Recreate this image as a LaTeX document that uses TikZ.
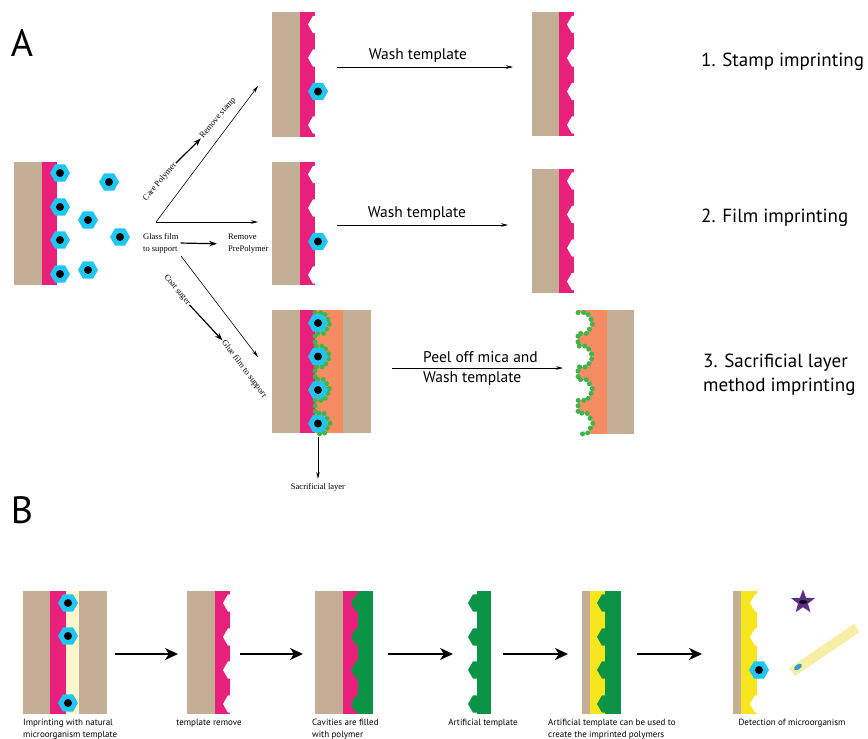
\documentclass[tikz,border=0pt]{standalone}
\usepackage{fontspec}
\setmainfont{PT Sans}
\newfontfamily\notefont{Liberation Serif}
\usetikzlibrary{arrows.meta}
\definecolor{support}{HTML}{C4AE95}
\definecolor{stamppink}{HTML}{E8207B}
\definecolor{bugcyan}{HTML}{1EC6F2}
\definecolor{sacorange}{HTML}{F58C62}
\definecolor{beadgreen}{HTML}{3DB54A}
\definecolor{polygreen}{HTML}{0B9446}
\definecolor{mipyellow}{HTML}{F7E51E}
\definecolor{cream}{HTML}{FDF6CF}
\definecolor{stick}{HTML}{F8EFA6}
\definecolor{starpurple}{HTML}{5E2D84}
\definecolor{dotblue}{HTML}{2F9BD8}

% bead string wrapped round the template cells, cells centred at x=#1
\newcommand\beadchain[1]{%
  \draw[beads] ({#1-3},312.6) \foreach \c in {323,356.5,390,423.5}
    {-- ({#1-3},{\c-10.4}) -- ({#1+6},{\c-10.4}) -- ({#1+12},\c) -- ({#1+6},{\c+10.4}) -- ({#1-3},{\c+10.4})};}

\begin{document}
\begin{tikzpicture}[x=1pt,y=-1pt,
 lbl/.style={font=\fontsize{15.5}{20}\selectfont,inner sep=0},
 big/.style={font=\fontsize{19}{24}\selectfont,align=left,anchor=west,inner sep=0},
 note/.style={font=\notefont\fontsize{8.5}{12}\selectfont,align=left,inner sep=1pt},
 steptxt/.style={font=\fontsize{9}{11.5}\selectfont,align=left,inner sep=0},
 thinarr/.style={-{Stealth[length=7pt,width=3.5pt]},line width=0.6pt},
 fatarr/.style={-{Stealth[length=8pt,width=5.5pt]},line width=1.2pt},
 bigarr/.style={-{Stealth[length=13pt,width=12pt,inset=4pt]},line width=2pt},
 beads/.style={draw=beadgreen,line width=5pt,line cap=round,dash pattern=on 0pt off 5.6pt},
 pics/microbe/.style={code={
   \fill[bugcyan] (0:10)--(60:10)--(120:10)--(180:10)--(240:10)--(300:10)--cycle;
   \fill (0,0) circle[radius=4pt];}},
 pics/pit/.style={code={
   \fill[#1] (0:10)--(60:10)--(120:10)--(180:10)--(240:10)--(300:10)--cycle;}}]
\fill[white] (0,0) rectangle (868,739);
\useasboundingbox (0,0) rectangle (868,739);

%% ---------- A ----------
\node[font=\fontsize{38}{38}\selectfont,inner sep=0] (labA) at (22,43) {A};

% film with the template cells
\fill[support] (14,162) rectangle (42,285);
\fill[stamppink] (42,162) rectangle (57,285);
\foreach \y in {173,207,240,274} \pic at (60,\y) {microbe};
\foreach \x/\y in {109/182,88/220,120/237,88/270} \pic at (\x,\y) {microbe};

% three routes
\coordinate (fork) at (156,222);
\coordinate (fork2) at (181,256);
\coordinate (stamp in) at (258,86);
\coordinate (film in) at (258,222);
\coordinate (sac in) at (258,357);
\draw[thinarr] (fork) -- (stamp in);
\draw[thinarr] (fork) -- (film in);
\draw[thinarr] (fork2) -- (sac in);

\node[note,rotate=50] (care) at (160,182) {Care Polymer};
\node[note,rotate=50] (rstamp) at (218,118) {Remove stamp};
\draw[fatarr] (care.east) -- (rstamp.west);
\node[note,anchor=west] (glass) at (142,243) {Glass film\\to support};
\node[note,anchor=west] (rpre) at (227,244) {Remove\\PrePolymer};
\draw[fatarr,shorten <=1pt,shorten >=10pt] (glass.east) -- (rpre.west);
\node[note,rotate=-50] (coat) at (177,290) {Coat suger};
\node[note,rotate=-53] (glue) at (244,369) {Glue film to support};
\draw[fatarr] (coat.east) -- (glue.west);

% 1. stamp
\fill[support] (272,12) rectangle (300,137);
\fill[stamppink] (300,12) rectangle (315,137);
\foreach \y in {24.5,58,125} \pic at (318,\y) {pit=white};
\pic at (318,91.5) {microbe};
\coordinate (stamp out) at (337,67);
\coordinate (stamp end) at (513,67);
\draw[thinarr] (stamp out) -- (stamp end);
\node[lbl] (wash1) at (418,56) {Wash template};
\fill[support] (532,12) rectangle (559,136);
\fill[stamppink] (559,12) rectangle (574,136);
\foreach \y in {24.5,58,91.5,125} \pic at (577,\y) {pit=white};
\node[big] (m1) at (701,62) {1. Stamp imprinting};

% 2. film
\fill[support] (272,162) rectangle (300,285);
\fill[stamppink] (300,162) rectangle (315,285);
\foreach \y in {174.5,208,275} \pic at (318,\y) {pit=white};
\pic at (318,241.5) {microbe};
\coordinate (film out) at (337,225);
\coordinate (film end) at (508,225);
\draw[thinarr] (film out) -- (film end);
\node[lbl] (wash2) at (417,214) {Wash template};
\fill[support] (532,169) rectangle (559,293);
\fill[stamppink] (559,169) rectangle (574,293);
\foreach \y in {181,214.5,248,281.5} \pic at (577,\y) {pit=white};
\node[big] (m2) at (701,218) {2. Film imprinting};

% 3. sacrificial layer
\fill[support] (272,310) rectangle (300,433);
\fill[stamppink] (300,310) rectangle (315,433);
\fill[sacorange] (315,310) rectangle (343,433);
\fill[support] (343,310) rectangle (371,433);
\beadchain{318}
\foreach \y in {323,356.5,390,423.5} \pic at (318,\y) {microbe};
\coordinate (sac foot) at (318,437);
\node[note,inner sep=0] (saclbl) at (318,487) {Sacrificial layer};
\draw[thinarr,shorten >=4pt] (sac foot) -- (saclbl.north);
\coordinate (peel out) at (392,368);
\coordinate (peel end) at (563,368);
\draw[thinarr] (peel out) -- (peel end);
\node[lbl,anchor=west,align=left] (peel) at (423,369) {Peel off mica and\\Wash template};
\fill[sacorange] (578,310) rectangle (607,434);
\fill[support] (607,310) rectangle (634,434);
\foreach \y in {323,356.5,390,423.5} \pic[scale=1.2] at (581,\y) {pit=white};
\beadchain{581}
\node[big] (m3) at (703,375) {3. Sacrificial layer\\method imprinting};

%% ---------- B ----------
\node[font=\fontsize{38}{38}\selectfont,inner sep=0] (labB) at (22,510) {B};

% natural template
\fill[support] (23,591) rectangle (50,714);
\fill[stamppink] (50,591) rectangle (66,714);
\fill[cream] (66,591) rectangle (79,714);
\fill[support] (79,591) rectangle (107,714);
\foreach \y in {603,636,703} \pic at (68,\y) {microbe};
\node[steptxt,anchor=north west] (c1) at (23,719) {Imprinting with natural\\microorganism template};

% template removed
\fill[support] (187,591) rectangle (215,714);
\fill[stamppink] (215,591) rectangle (230,714);
\foreach \y in {603,637,670,704} \pic at (233,\y) {pit=white};
\node[steptxt] (c2) at (209,723) {template remove};

% cavities filled
\fill[support] (315,591) rectangle (343,714);
\fill[stamppink] (343,591) rectangle (358,714);
\fill[polygreen] (358,591) rectangle (373,714);
\foreach \y in {603,637,670,704} \pic at (361,\y) {pit=polygreen};
\node[steptxt,anchor=north west] (c3) at (312,719) {Cavities are filled\\with polymer};

% artificial template
\fill[polygreen] (477,591) rectangle (491,714);
\foreach \y in {603,637,670,704} \pic at (478,\y) {pit=polygreen};
\node[steptxt] (c4) at (483,723) {Artificial template};

% artificial template on new film
\fill[support] (582,591) rectangle (590,714);
\fill[mipyellow] (590,591) rectangle (605,714);
\fill[polygreen] (605,591) rectangle (621,714);
\foreach \y in {603,637,670,704} \pic at (607,\y) {pit=polygreen};
\node[steptxt,anchor=north west] (c5) at (548,719) {Artificial template can be used to\\create the imprinted polymers};

% detection
\fill[support] (733,591) rectangle (741,714);
\fill[mipyellow] (741,591) rectangle (757,714);
\foreach \y in {603,637,704} \pic at (760,\y) {pit=white};
\pic at (759,670) {microbe};
\coordinate (starc) at (803,602);
\fill[starpurple] (starc) +(-90:12.5) -- +(-54:5.2) -- +(-18:12.5) -- +(18:5.2) -- +(54:12.5)
  -- +(90:5.2) -- +(126:12.5) -- +(162:5.2) -- +(198:12.5) -- +(234:5.2) -- cycle;
\fill (starc) ellipse[x radius=4pt,y radius=1.8pt];
\coordinate (stick a) at (792,672);
\coordinate (stick b) at (857,628);
\draw[stick,line width=10pt] (stick a) -- (stick b);
\coordinate (spot) at (798,667);
\fill[dotblue,rotate around={34:(spot)}] (spot) ellipse[x radius=4.5pt,y radius=2.5pt];
\node[steptxt] (c6) at (792,723) {Detection of microorganism};

% steps
\foreach \s/\e [count=\i] in {115/178,240/303,388/453,503/568,637/702}{
  \coordinate (st\i) at (\s,654);
  \coordinate (en\i) at (\e,654);
  \draw[bigarr] (st\i) -- (en\i);}
\end{tikzpicture}
\end{document}
